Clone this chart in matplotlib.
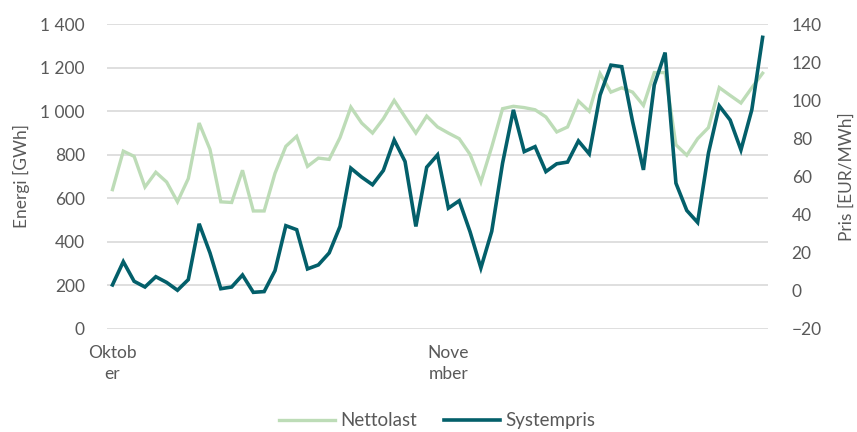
import numpy as np
import matplotlib.pyplot as plt

# Daily values, 1 Oct - 30 Nov
nettolast = [
    639, 816, 792, 651, 719, 674, 583, 690, 945, 824,
    583, 580, 728, 541, 541, 714, 838, 884, 746, 784,
    778, 878, 1018, 945, 899, 965, 1049, 973, 899, 977,
    927, 899, 873, 801, 674, 835, 1011, 1022, 1016, 1006,
    973, 904, 927, 1046, 999, 1172, 1087, 1107, 1087, 1026,
    1177, 1177, 845, 797, 873, 924, 1108, 1072, 1037, 1107,
    1174,
]
systempris = [
    3.0, 15.2, 4.9, 1.9, 7.3, 4.3, 0.2, 5.8, 35.1, 19.8,
    1.0, 1.9, 8.2, -0.9, -0.5, 10.5, 34.1, 32.0, 11.4, 13.5,
    19.8, 33.7, 64.3, 59.6, 55.6, 63.1, 79.1, 67.8, 33.7, 64.8,
    71.3, 43.3, 47.2, 30.9, 11.9, 31.1, 66.9, 94.9, 73.0, 75.6,
    62.5, 66.6, 67.5, 78.6, 71.8, 102.7, 118.4, 117.6, 88.7, 63.4,
    108.0, 125.0, 56.4, 42.1, 35.8, 72.2, 97.0, 89.6, 73.9, 94.9,
    133.0,
]
month_pos = [0, 31]
month_labels = ["Oktob\ner", "Nove\nmber"]

LIGHT = "#bddcb7"
DARK = "#035f6a"
TEXT = "#595959"
GRID = "#d9d9d9"

plt.rcParams["font.family"] = ["Lato", "DejaVu Sans"]
plt.rcParams["font.size"] = 12.5

fig = plt.figure(figsize=(8.57, 4.32), dpi=100)
ax = fig.add_axes([0.1249, 0.2391, 0.7713, 0.7053])
ax2 = ax.twinx()

x = np.arange(len(nettolast))
ax.plot(x, nettolast, color=LIGHT, lw=2.4, solid_joinstyle="miter", label="Nettolast", zorder=3)
ax2.plot(x, systempris, color=DARK, lw=2.6, solid_joinstyle="miter", label="Systempris", zorder=3)

ax.set_xlim(-0.5, len(nettolast) - 0.5)
ax.set_ylim(0, 1400)
ax.set_yticks(range(0, 1401, 200))
ax.set_yticklabels([f"{v:,}".replace(",", " ") for v in range(0, 1401, 200)])
ax2.set_ylim(-20, 140)
ax2.set_yticks(range(-20, 141, 20))

ax.grid(axis="y", color=GRID, lw=1.2)
ax.set_axisbelow(True)
ax.set_xticks(month_pos)
ax.set_xticklabels(month_labels, linespacing=1.35)

for a in (ax, ax2):
    for s in a.spines.values():
        s.set_visible(False)
    a.tick_params(colors=TEXT, length=0, labelsize=12.5)
ax.tick_params(axis="y", pad=16)
ax2.tick_params(axis="y", pad=17)
ax.tick_params(axis="x", pad=12)

ax.set_ylabel("Energi [GWh]", color=TEXT, fontsize=12.5)
ax.yaxis.set_label_coords(-0.117, 0.5)
ax2.set_ylabel("Pris [EUR/MWh]", color=TEXT, fontsize=12.5)
ax2.yaxis.set_label_coords(1.106, 0.5)

h1, l1 = ax.get_legend_handles_labels()
h2, l2 = ax2.get_legend_handles_labels()
fig.legend(h1 + h2, l1 + l2, loc="center", bbox_to_anchor=(0.51, 0.026),
           ncol=2, frameon=False, fontsize=13.5, labelcolor=TEXT,
           handlelength=3.0, handletextpad=0.3, columnspacing=1.4)

fig.savefig("out.png", dpi=100)
